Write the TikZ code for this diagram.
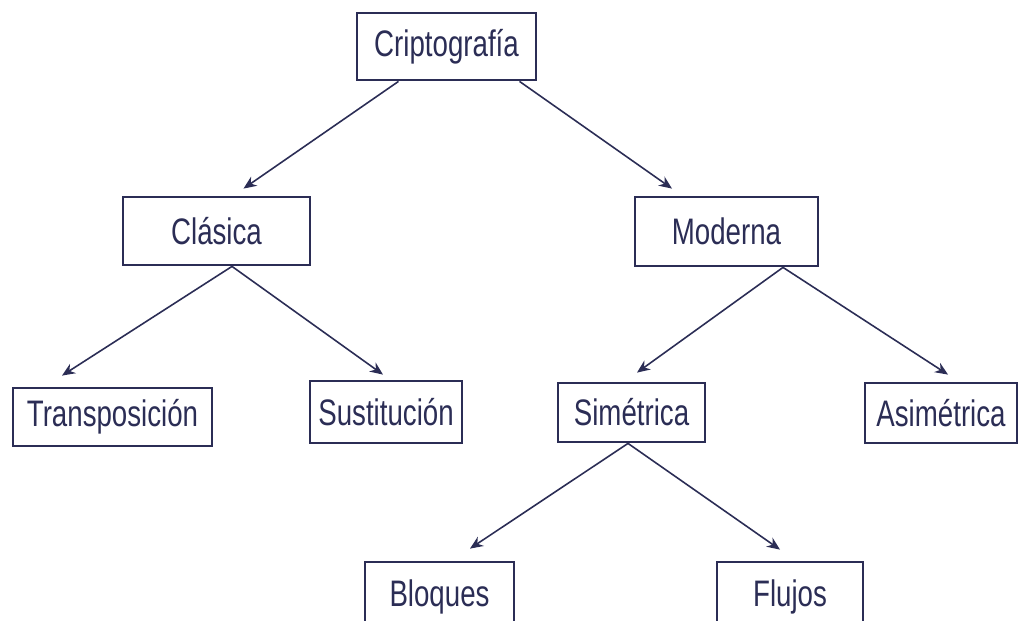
\documentclass[tikz,border=0pt]{standalone}
\usepackage{fontspec}
\setmainfont{Liberation Sans}[FakeStretch=0.75]
\usetikzlibrary{arrows.meta,calc}
\definecolor{navy}{HTML}{2B2D55}
\begin{document}
\begin{tikzpicture}[x=0.02cm,y=-0.02cm,
  box/.style={draw=navy, line width=1.6pt, text=navy, inner sep=0pt,
    font=\fontsize{21}{25}\selectfont},
  arr/.style={draw=navy, line width=0.9pt, -{Stealth[length=2.6mm,width=2.2mm]}}]
\useasboundingbox[fill=white] (0,0) rectangle (1020,621);
\node[box, minimum width=179*0.02cm, minimum height=67*0.02cm] (crip) at (446.5,46.5) {Criptografía};
\node[box, minimum width=187*0.02cm, minimum height=68*0.02cm] (clas) at (216.5,231) {Clásica};
\node[box, minimum width=183*0.02cm, minimum height=69*0.02cm] (mod) at (726.5,231.5) {Moderna};
\node[box, minimum width=199*0.02cm, minimum height=58*0.02cm] (trans) at (112.5,417) {Transposición};
\node[box, minimum width=152*0.02cm, minimum height=62*0.02cm] (sust) at (386,412) {Sustitución};
\node[box, minimum width=147*0.02cm, minimum height=59*0.02cm] (sim) at (631.5,412.5) {Simétrica};
\node[box, minimum width=152*0.02cm, minimum height=60*0.02cm] (asim) at (941,413) {Asimétrica};
\node[box, minimum width=149*0.02cm, minimum height=70*0.02cm] (bloq) at (439.5,597) {Bloques};
\node[box, minimum width=146*0.02cm, minimum height=70*0.02cm] (flu) at (790,597) {Flujos};
\draw[arr] ($(crip.south)+(-48,0)$) -- ($(clas.north)+(27,-7)$);
\draw[arr] ($(crip.south)+(73,0)$) -- ($(mod.north)+(-54.5,-7)$);
\draw[arr] ($(clas.south)+(15.5,0)$) -- ($(trans.north)+(-50.5,-11)$);
\draw[arr] ($(clas.south)+(15.5,0)$) -- ($(sust.north)+(-3,-5)$);
\draw[arr] ($(mod.south)+(56.5,0)$) -- ($(sim.north)+(5.5,-9)$);
\draw[arr] ($(mod.south)+(56.5,0)$) -- ($(asim.north)+(7,-7)$);
\draw[arr] ($(sim.south)+(-3.5,0)$) -- ($(bloq.north)+(30.5,-12)$);
\draw[arr] ($(sim.south)+(-3.5,0)$) -- ($(flu.north)+(-10,-11)$);
\end{tikzpicture}
\end{document}
